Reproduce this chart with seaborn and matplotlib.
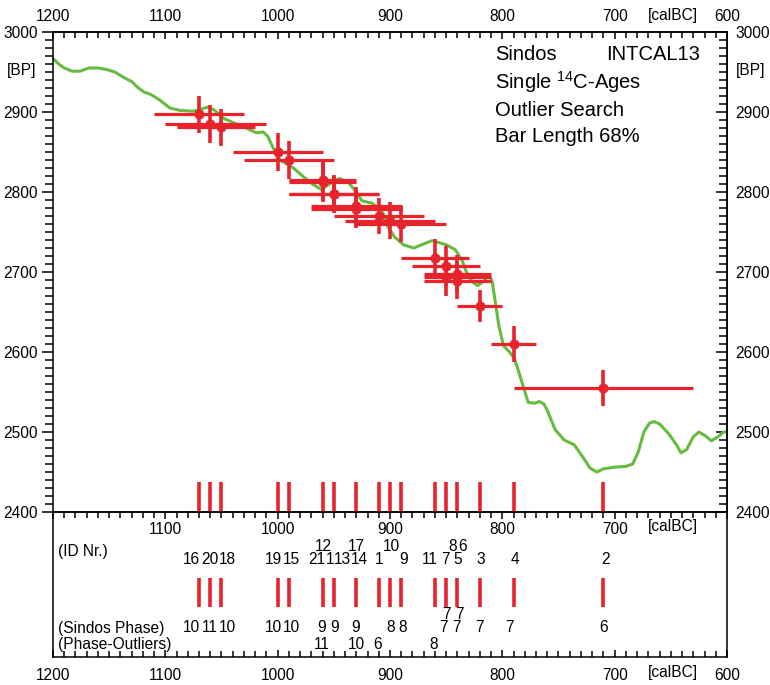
import numpy as np
import pandas as pd
import matplotlib
matplotlib.use("Agg")
import matplotlib.pyplot as plt
from matplotlib.ticker import MultipleLocator, FixedLocator, FixedFormatter
import seaborn as sns

# INTCAL13 curve section (calBC, BP)
curve_calbc = [1200, 1195, 1190, 1183, 1176, 1168, 1160, 1152, 1145, 1138, 1130, 1124,
               1119, 1113, 1105, 1096, 1087, 1075, 1069, 1063, 1057, 1048, 1040, 1028,
               1019, 1013, 1009, 1004, 998, 992, 986, 977, 968, 961, 953, 945, 937, 930,
               925, 916, 912, 906, 902, 896, 888, 879, 872, 863, 857, 850, 842, 836, 832,
               827, 822, 817, 812, 809, 806, 803, 799, 793, 789, 786, 781, 777, 771, 767,
               763, 760, 753, 745, 736, 728, 722, 716, 710, 700, 690, 684, 679, 674, 669,
               665, 660, 652, 645, 641, 636, 630, 625, 619, 614, 608, 603, 600]
curve_bp = [2967, 2960, 2955, 2951, 2951, 2955, 2955, 2953, 2950, 2944, 2938, 2930,
            2925, 2922, 2915, 2905, 2902, 2901, 2903, 2906, 2903, 2892, 2887, 2880,
            2874, 2875, 2870, 2855, 2840, 2835, 2830, 2819, 2809, 2803, 2811, 2817, 2812, 2800,
            2789, 2786, 2782, 2773, 2757, 2744, 2734, 2730, 2734, 2739, 2737, 2734, 2728, 2715, 2700,
            2688, 2683, 2688, 2696, 2688, 2660, 2632, 2608, 2599, 2591, 2578, 2555, 2537, 2536, 2538,
            2535, 2527, 2503, 2490, 2484, 2468, 2455, 2450, 2454, 2456, 2457, 2460, 2475, 2500, 2511,
            2513, 2510, 2498, 2484, 2474, 2478, 2494, 2500, 2495, 2489, 2494, 2500, 2500]

# single 14C ages: position (calBC), age (BP), 1 sigma, calibrated range
sample_pos = [1070, 1060, 1050, 1000, 990, 960, 960, 950, 950, 930, 930,
              910, 900, 890, 860, 850, 850, 840, 840, 820, 790, 710]
sample_bp = [2897, 2885, 2881, 2850, 2840, 2815, 2812, 2798, 2797, 2782, 2779,
             2770, 2764, 2760, 2718, 2707, 2694, 2698, 2689, 2657, 2610, 2555]
sample_err = [23, 24, 23, 24, 24, 25, 25, 23, 23, 24, 24,
              23, 23, 22, 23, 25, 24, 23, 23, 20, 23, 23]
cal_lo = [1030, 1010, 1020, 960, 950, 930, 930, 910, 910, 889, 889,
          870, 860, 850, 830, 820, 810, 810, 810, 800, 770, 630]
cal_hi = [1110, 1100, 1090, 1040, 1030, 990, 990, 990, 990, 970, 970,
          950, 940, 930, 890, 880, 870, 870, 870, 840, 810, 790]

# lower panel labels
id_upper_text = ["12", "17", "10", "8", "6"]
id_upper_x = [959, 930, 899, 844, 835]
id_lower_text = ["16", "20", "18", "19", "15", "21", "1", "13", "14", "1", "9",
                 "11", "7", "5", "3", "4", "2"]
id_lower_x = [1077, 1060, 1044.3, 1004, 987.5, 964.9, 953.6, 942.3, 927.2, 909.5, 888,
              864.4, 850.4, 839.7, 819.3, 788.7, 708]
phase_text = ["10", "11", "10", "10", "10", "9", "9", "9", "8", "8", "7", "7", "7", "7", "6"]
phase_x = [1076.8, 1060, 1044.6, 1003.9, 987.5, 960.8, 949, 930.3, 899, 888.7,
           852.5, 840.6, 819.9, 793.2, 709.5]
phase_upper_text = ["7", "7"]
phase_upper_x = [849.5, 838.3]
outlier_text = ["11", "10", "6", "8"]
outlier_x = [960.8, 929.7, 911, 861.4]

legend_lines = ["Sindos", "Single $^{14}$C-Ages", "Outlier Search", "Bar Length 68%"]

df = pd.DataFrame({"pos": sample_pos, "bp": sample_bp, "err": sample_err,
                   "lo": cal_lo, "hi": cal_hi})
bar_pos = sorted(set(sample_pos))

sns.set_theme(style="white")
plt.rcParams["font.family"] = ["Liberation Sans", "DejaVu Sans"]
plt.rcParams["mathtext.default"] = "regular"
for k in ["text.color", "axes.labelcolor", "xtick.color", "ytick.color", "axes.edgecolor"]:
    plt.rcParams[k] = "black"
plt.rcParams["axes.linewidth"] = 1.1

RED = "#e8232b"
GREEN = "#66bb40"
FS = 11.2

fig = plt.figure(figsize=(7.7, 6.85), dpi=100)
ax2 = fig.add_axes([53 / 770, 1 - 657 / 685, 674 / 770, 145 / 685])
ax = fig.add_axes([53 / 770, 1 - 512 / 685, 674 / 770, 480 / 685])
ax2.set_facecolor("none")
ax.set_facecolor("none")

# --- main panel ---
sns.lineplot(x=curve_calbc, y=curve_bp, ax=ax, color=GREEN, lw=2.2,
             sort=False, estimator=None, zorder=2)
ax.hlines(df["bp"], df["lo"], df["hi"], color=RED, lw=2.3, zorder=3)
ax.vlines(df["pos"], df["bp"] - df["err"], df["bp"] + df["err"], color=RED, lw=2.6, zorder=3)
sns.scatterplot(data=df, x="pos", y="bp", ax=ax, color=RED, edgecolor=RED, s=45, zorder=4)
ax.vlines(bar_pos, 2400, 2437, color=RED, lw=2.6)

ax.set_xlim(1200, 600)
ax.set_ylim(2400, 3000)
ax.set_xlabel("")
ax.set_ylabel("")

majors_x = list(range(1200, 599, -100))
ax.xaxis.set_major_locator(FixedLocator(majors_x))
ax.xaxis.set_major_formatter(FixedFormatter(["", "1100", "1000", "900", "800", "700", ""]))
ax.xaxis.set_minor_locator(MultipleLocator(10))
ax.yaxis.set_major_locator(MultipleLocator(100))
ax.yaxis.set_minor_locator(MultipleLocator(10))
ax.tick_params(axis="x", which="both", direction="out", bottom=True, top=False,
               labelsize=FS, pad=2.5)
ax.tick_params(axis="x", which="major", length=5, width=1.1)
ax.tick_params(axis="x", which="minor", length=4, width=1.1)
ax.tick_params(axis="y", which="both", direction="out", left=True, right=False,
               labelsize=FS, pad=3)
ax.tick_params(axis="y", which="major", length=8, width=1.1)
ax.tick_params(axis="y", which="minor", length=5.5, width=1.1)

top = ax.secondary_xaxis("top")
top.xaxis.set_major_locator(FixedLocator(majors_x))
top.xaxis.set_minor_locator(MultipleLocator(10))
top.tick_params(which="both", direction="in", labelsize=FS, pad=6)
top.tick_params(which="major", length=5, width=1.1)
top.tick_params(which="minor", length=4, width=1.1)

right = ax.secondary_yaxis("right")
right.yaxis.set_major_locator(MultipleLocator(100))
right.yaxis.set_minor_locator(MultipleLocator(10))
right.tick_params(which="both", direction="in", labelsize=FS, pad=6)
right.tick_params(which="major", length=8, width=1.1)
right.tick_params(which="minor", length=5.5, width=1.1)

ax.text(648, 1.035, "[calBC]", transform=ax.get_xaxis_transform(), ha="center",
        va="center", fontsize=FS)
ax.text(648, -0.031, "[calBC]", transform=ax.get_xaxis_transform(), ha="center",
        va="center", fontsize=FS)
ax.text(-0.046, 0.919, "[BP]", transform=ax.transAxes, ha="center", va="center", fontsize=FS)
ax.text(1.035, 0.919, "[BP]", transform=ax.transAxes, ha="center", va="center", fontsize=FS)

leg_y = [0.954, 0.8965, 0.8375, 0.782]
for txt, yy in zip(legend_lines, leg_y):
    ax.text(0.656, yy, txt, transform=ax.transAxes, ha="left", va="center", fontsize=14.5)
ax.text(0.82, leg_y[0], "INTCAL13", transform=ax.transAxes, ha="left", va="center", fontsize=14.5)

# --- lower panel ---
ax2.set_xlim(1200, 600)
ax2.set_ylim(0, 1)
ax2.vlines(bar_pos, 0.345, 0.545, color=RED, lw=2.6)
ax2.xaxis.set_major_locator(FixedLocator(majors_x))
ax2.xaxis.set_minor_locator(MultipleLocator(10))
ax2.set_yticks([])
ax2.tick_params(axis="x", which="both", direction="in", bottom=True, top=False,
                labelsize=FS, pad=8)
ax2.tick_params(axis="x", which="major", length=5, width=1.1)
ax2.tick_params(axis="x", which="minor", length=4, width=1.1)
ax2.text(648, -0.11, "[calBC]", transform=ax2.get_xaxis_transform(), ha="center",
         va="center", fontsize=FS)

tr = ax2.get_xaxis_transform()
rows = [(id_upper_text, id_upper_x, 0.761), (id_lower_text, id_lower_x, 0.669),
        (phase_upper_text, phase_upper_x, 0.29), (phase_text, phase_x, 0.2),
        (outlier_text, outlier_x, 0.083)]
for texts, xs, yy in rows:
    for t, x in zip(texts, xs):
        ax2.text(x, yy, t, transform=tr, ha="center", va="center", fontsize=FS)

ax2.text(0.007, 0.726, "(ID Nr.)", transform=ax2.transAxes, ha="left", va="center", fontsize=FS)
ax2.text(0.007, 0.2, "(Sindos Phase)", transform=ax2.transAxes, ha="left", va="center", fontsize=FS)
ax2.text(0.007, 0.083, "(Phase-Outliers)", transform=ax2.transAxes, ha="left", va="center", fontsize=FS)

fig.savefig("out.png", dpi=100)
